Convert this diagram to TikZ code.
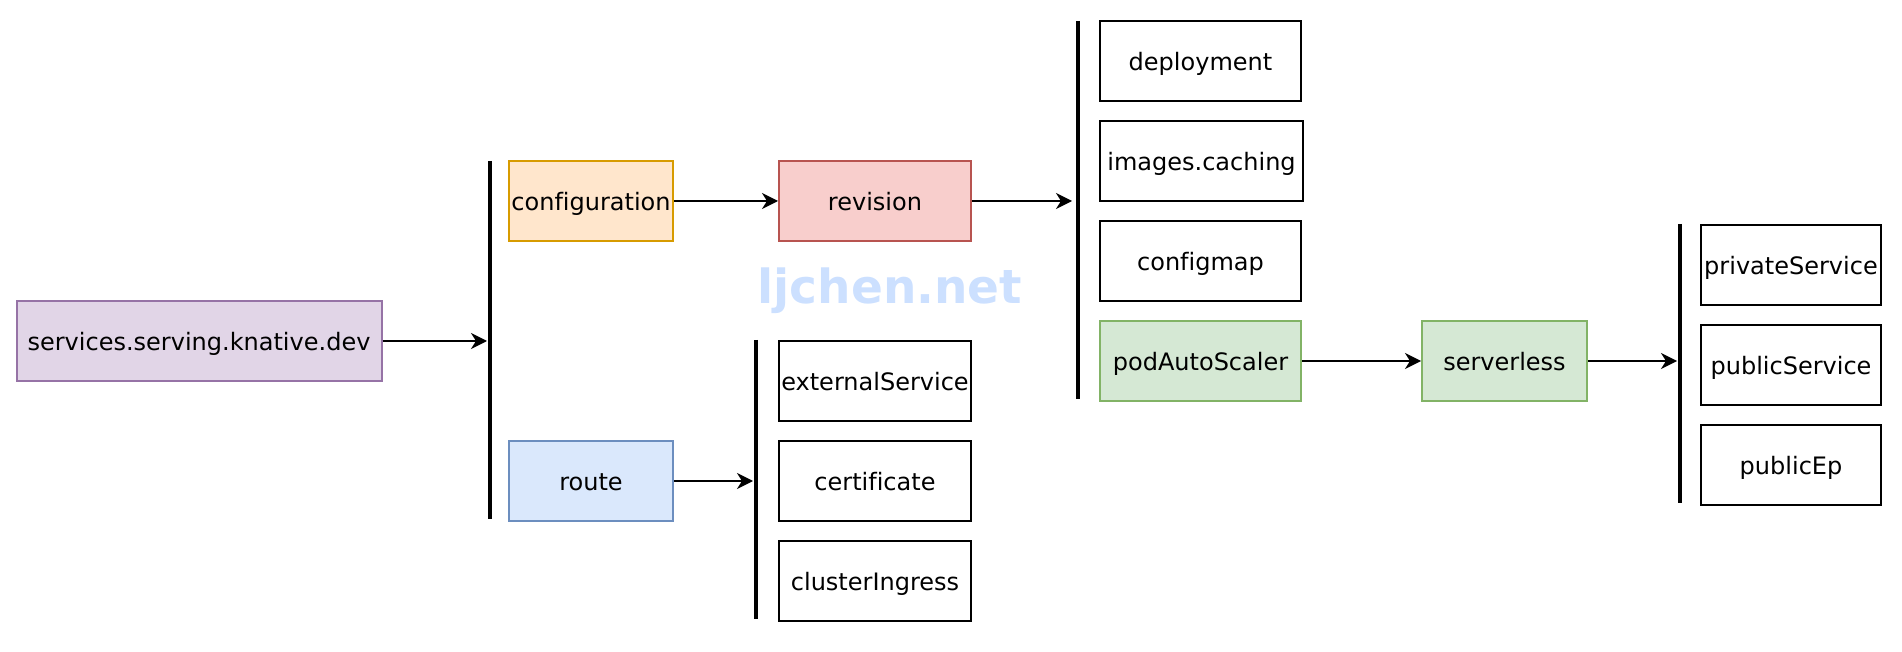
\documentclass[tikz,border=0pt]{standalone}
\usepackage{fontspec}
\setmainfont{DejaVu Sans}[Ligatures=NoCommon]
\usetikzlibrary{arrows.meta}
\definecolor{purplefill}{HTML}{E1D5E7}
\definecolor{purpleline}{HTML}{9673A6}
\definecolor{orangefill}{HTML}{FFE6CC}
\definecolor{orangeline}{HTML}{D79B00}
\definecolor{redfill}{HTML}{F8CECC}
\definecolor{redline}{HTML}{B85450}
\definecolor{bluefill}{HTML}{DAE8FC}
\definecolor{blueline}{HTML}{6C8EBF}
\definecolor{greenfill}{HTML}{D5E8D4}
\definecolor{greenline}{HTML}{82B366}
\definecolor{markblue}{HTML}{CCE0FF}
\begin{document}
\begin{tikzpicture}[x=0.5pt,y=-0.5pt]
\tikzstyle{every node}+=[inner sep=0pt, font=\fontsize{12}{14}\selectfont]
\tikzstyle{box}=[draw, line width=1pt, minimum height=40pt, text height=9.5pt, text depth=0pt]
\tikzstyle{bar}=[line width=2.4pt]
\tikzstyle{arr}=[line width=1pt, -{Stealth[length=8pt,width=8pt,inset=2.5pt]}]
\useasboundingbox (0,0) rectangle (1902,652);

\node (mark) [anchor=base, text=markblue, font=\fontsize{23.5}{26}\selectfont\bfseries] at (890,304) {ljchen.net};

\node (svc) [box, minimum width=182.5pt, draw=purpleline, fill=purplefill] at (199,341) {services.serving.knative.dev};
\node (cfg) [box, minimum width=82pt, draw=orangeline, fill=orangefill] at (591,201) {configuration};
\node (route) [box, minimum width=82pt, draw=blueline, fill=bluefill] at (591,481) {route};
\node (rev) [box, minimum width=96pt, draw=redline, fill=redfill] at (875,201) {revision};

\node (ext) [box, minimum width=96pt] at (875,381) {externalService};
\node (cert) [box, minimum width=96pt] at (875,481) {certificate};
\node (ingress) [box, minimum width=96pt] at (875,581) {clusterIngress};

\node (deploy) [box, minimum width=100.5pt] at (1200.5,61) {deployment};
\node (cache) [box, minimum width=101.5pt] at (1201.5,161) {images.caching};
\node (cmap) [box, minimum width=100.5pt] at (1200.5,261) {configmap};
\node (pod) [box, minimum width=100.5pt, draw=greenline, fill=greenfill] at (1200.5,361) {podAutoScaler};
\node (srv) [box, minimum width=82.5pt, draw=greenline, fill=greenfill] at (1504.5,361) {serverless};

\node (priv) [box, minimum width=90pt] at (1791,265) {privateService};
\node (pub) [box, minimum width=90pt] at (1791,365) {publicService};
\node (ep) [box, minimum width=90pt] at (1791,465) {publicEp};

% bars
\coordinate (b1t) at (490,161); \coordinate (b1b) at (490,519);
\coordinate (b2t) at (1078,21); \coordinate (b2b) at (1078,399);
\coordinate (b3t) at (756,340); \coordinate (b3b) at (756,619);
\coordinate (b4t) at (1680,224); \coordinate (b4b) at (1680,503);
\draw [bar] (b1t) -- (b1b);
\draw [bar] (b2t) -- (b2b);
\draw [bar] (b3t) -- (b3b);
\draw [bar] (b4t) -- (b4b);

\draw [arr, shorten >=1.5pt] (svc) -- (svc -| b1t);
\draw [arr] (cfg) -- (rev);
\draw [arr, shorten >=3pt] (rev) -- (rev -| b2t);
\draw [arr, shorten >=1.5pt] (route) -- (route -| b3t);
\draw [arr] (pod) -- (srv);
\draw [arr, shorten >=1.5pt] (srv) -- (srv -| b4t);
\end{tikzpicture}
\end{document}
